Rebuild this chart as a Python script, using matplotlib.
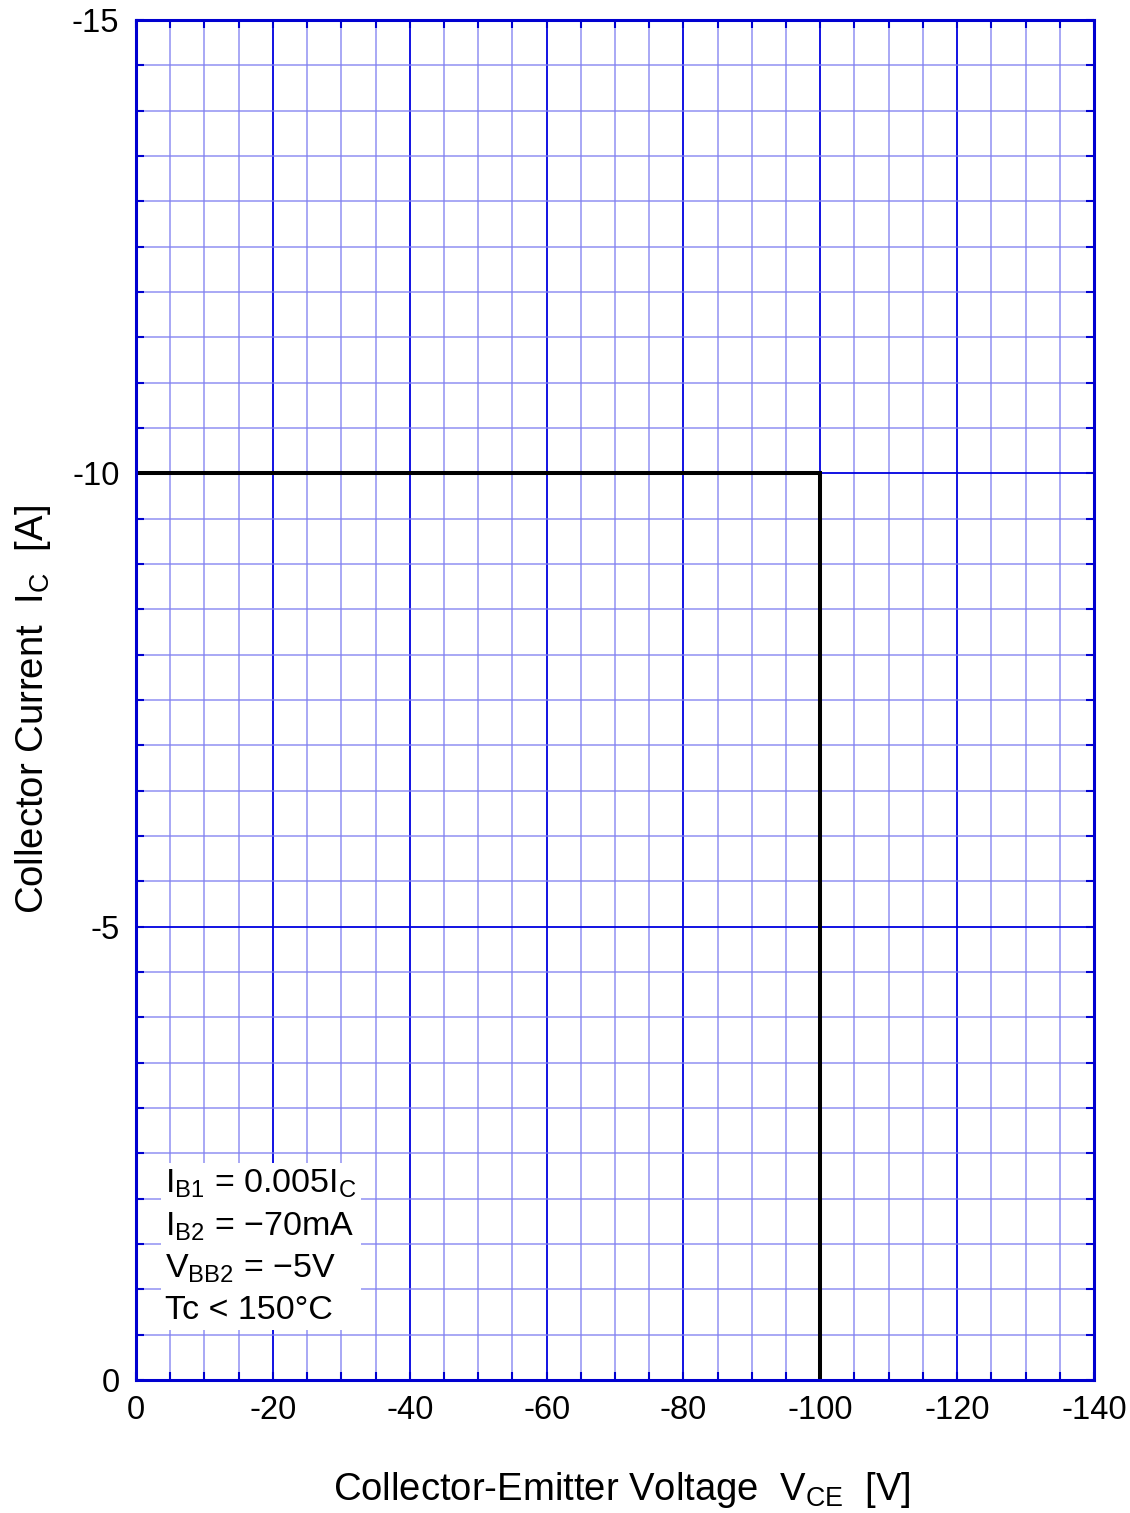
import matplotlib.pyplot as plt
import numpy as np
from matplotlib.ticker import MultipleLocator

plt.rcParams['font.family'] = ['Liberation Sans', 'DejaVu Sans']
plt.rcParams['mathtext.fontset'] = 'custom'
plt.rcParams['mathtext.rm'] = 'Liberation Sans'
plt.rcParams['mathtext.it'] = 'Liberation Sans'

# RBSOA boundary
vce = [0, -100, -100]
ic = [-10, -10, 0]

xticks = [0, -20, -40, -60, -80, -100, -120, -140]
yticks = [0, -5, -10, -15]
notes = ['I$_{\\mathrm{B1}}$ = 0.005I$_{\\mathrm{C}}$',
         'I$_{\\mathrm{B2}}$ = \u221270mA',
         'V$_{\\mathrm{BB2}}$ = \u22125V',
         'Tc < 150\u00b0C']

fig = plt.figure(figsize=(11.3, 15.13), dpi=100)
ax = fig.add_axes([0.1204, 0.0879, 0.8477, 0.8989])

ax.set_xlim(0, -140)
ax.set_ylim(0, -15)
ax.set_xticks(xticks)
ax.set_xticklabels([str(t) for t in xticks])
ax.set_yticks(yticks)
ax.set_yticklabels([str(t) for t in yticks])
ax.xaxis.set_minor_locator(MultipleLocator(5))
ax.yaxis.set_minor_locator(MultipleLocator(0.5))

ax.grid(which='major', color='#0000e0', lw=1.3)
ax.grid(which='minor', color='#8080f0', lw=1.2, alpha=0.8)
ax.set_axisbelow(True)

for s in ax.spines.values():
    s.set_color('#0000d0')
    s.set_linewidth(2.2)
ax.tick_params(which='both', direction='in', top=True, right=True,
               color='#0000d0', width=1.5, length=6, labelsize=23.5)
ax.tick_params(axis='x', which='major', pad=11)
ax.tick_params(axis='y', which='major', pad=12)

ax.plot(vce, ic, color='black', lw=2.9, solid_joinstyle='miter')

ax.text(-4.3, -0.6, '\n'.join(notes), fontsize=24.5, va='bottom', ha='left',
        linespacing=1.4,
        bbox=dict(facecolor='white', edgecolor='none', pad=3))

ax.set_xlabel('Collector-Emitter Voltage  V$_{\\mathrm{CE}}$  [V]', fontsize=27.5)
ax.set_ylabel('Collector Current  I$_{\\mathrm{C}}$  [A]', fontsize=27.5)
ax.xaxis.set_label_coords(0.507, -0.066)
ax.yaxis.set_label_coords(-0.087, 0.493)

plt.savefig('out.png', dpi=100)
